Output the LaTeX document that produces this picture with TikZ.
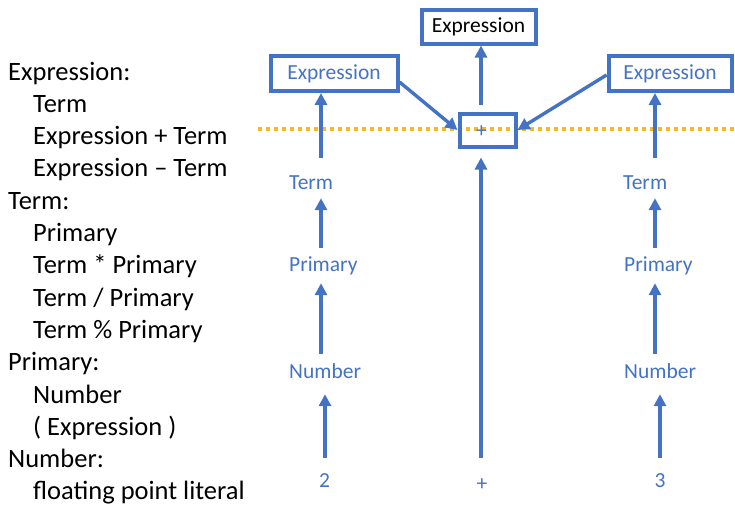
\documentclass[tikz,border=0pt]{standalone}
\usepackage{fontspec}
\setmainfont{Carlito}
\usetikzlibrary{arrows.meta,calc}
\definecolor{msblue}{HTML}{4472C4}
\definecolor{gold}{RGB}{248,184,36}
\begin{document}
\begin{tikzpicture}[x=1pt,y=-1pt,
  gram/.style={anchor=base west,inner sep=0pt,font=\fontsize{26.5}{32}\selectfont},
  sym/.style={anchor=base west,inner sep=0pt,text height=14pt,text depth=0pt,
    text=msblue,font=\fontsize{21.5}{26}\selectfont},
  leaf/.style={sym,anchor=base},
  ebox/.style={draw=msblue,line width=4pt,inner sep=0pt,minimum height=35pt,
    font=\fontsize{21.5}{26}\selectfont},
  arr/.style={draw=msblue,line width=3.4pt,
    -{Triangle[width=12pt,length=12pt]}},
  cut/.style={draw=gold,line width=4pt,dash pattern=on 4pt off 4pt}]
\useasboundingbox (0,0) rectangle (735,506);

% grammar rules
\def\lh{32.3}
\node[gram] (g1)  at (8,80)             {Expression:};
\node[gram] (g2)  at (33,80+1*\lh)      {Term};
\node[gram] (g3)  at (33,80+2*\lh)      {Expression + Term};
\node[gram] (g4)  at (33,80+3*\lh)      {Expression – Term};
\node[gram] (g5)  at (8,80+4*\lh)       {Term:};
\node[gram] (g6)  at (33,80+5*\lh)      {Primary};
\node[gram] (g7)  at (33,80+6*\lh)      {Term * Primary};
\node[gram] (g8)  at (33,80+7*\lh)      {Term / Primary};
\node[gram] (g9)  at (33,80+8*\lh)      {Term \% Primary};
\node[gram] (g10) at (8,80+9*\lh)       {Primary:};
\node[gram] (g11) at (33,80+10*\lh)     {Number};
\node[gram] (g12) at (33,80+11*\lh)     {( Expression )};
\node[gram] (g13) at (8,80+12*\lh)      {Number:};
\node[gram] (g14) at (33,80+13*\lh)     {floating point literal};

% cut line through the operator
\coordinate (cutL) at (258,129);
\coordinate (cutR) at (735,129);
\draw[cut] (cutL) -- (cutR);

% column axes
\coordinate (cl)  at (321,0);
\coordinate (cl2) at (325,0);
\coordinate (cm)  at (481,0);
\coordinate (cr)  at (655,0);
\coordinate (cr2) at (660,0);

% boxes
\node[ebox,minimum width=114pt,minimum height=34pt] (top) at (478.5,26.5) {Expression};
\node[ebox,minimum width=127pt,text=msblue] (lbox) at (334,73.5) {Expression};
\node[ebox,minimum width=123pt,text=msblue] (rbox) at (670,73.5) {Expression};
\node[ebox,minimum width=56pt,minimum height=33pt] (opbox) at (487.5,130) {};
\node[leaf] (opsign) at (481.5,137) {+};

% left operand chain
\node[sym] (term1) at (289,189) {Term};
\node[sym] (prim1) at (289,271) {Primary};
\node[sym] (num1)  at (289,378) {Number};
\node[leaf] (two)  at (324.5,487) {2};

% right operand chain
\node[sym] (term2) at (623,189) {Term};
\node[sym] (prim2) at (624,271) {Primary};
\node[sym] (num2)  at (624,378) {Number};
\node[leaf] (three) at (660,487) {3};

% operator token
\node[leaf] (plus) at (482,490) {+};

% left arrows
\draw[arr] ($(term1.north -| cl)+(0,-17)$) -- (lbox.south -| cl);
\draw[arr] ($(prim1.north -| cl)+(0,-9)$) -- ($(term1.south -| cl)+(0,9)$);
\draw[arr] ($(num1.north -| cl)+(0,-10)$) -- ($(prim1.south -| cl)+(0,12)$);
\draw[arr] ($(two.north -| cl2)+(0,-15)$) -- ($(num1.south -| cl2)+(0,16)$);

% right arrows
\draw[arr] ($(term2.north -| cr)+(0,-17)$) -- (rbox.south -| cr);
\draw[arr] ($(prim2.north -| cr)+(0,-9)$) -- ($(term2.south -| cr)+(0,9)$);
\draw[arr] ($(num2.north -| cr)+(0,-10)$) -- ($(prim2.south -| cr)+(0,12)$);
\draw[arr] ($(three.north -| cr2)+(0,-15)$) -- ($(num2.south -| cr2)+(0,16)$);

% middle arrows
\draw[arr] ($(plus.north -| cm)+(0,-18)$) -- ($(opbox.south -| cm)+(0,9)$);
\draw[arr] ($(opbox.north -| cm)+(0,-7)$) -- (top.south -| cm);
\draw[arr] ($(lbox.south east)+(0,-11)$) -- (opbox.west);
\draw[arr] ($(rbox.west)+(0,1.5)$) -- (opbox.east);
\end{tikzpicture}
\end{document}
